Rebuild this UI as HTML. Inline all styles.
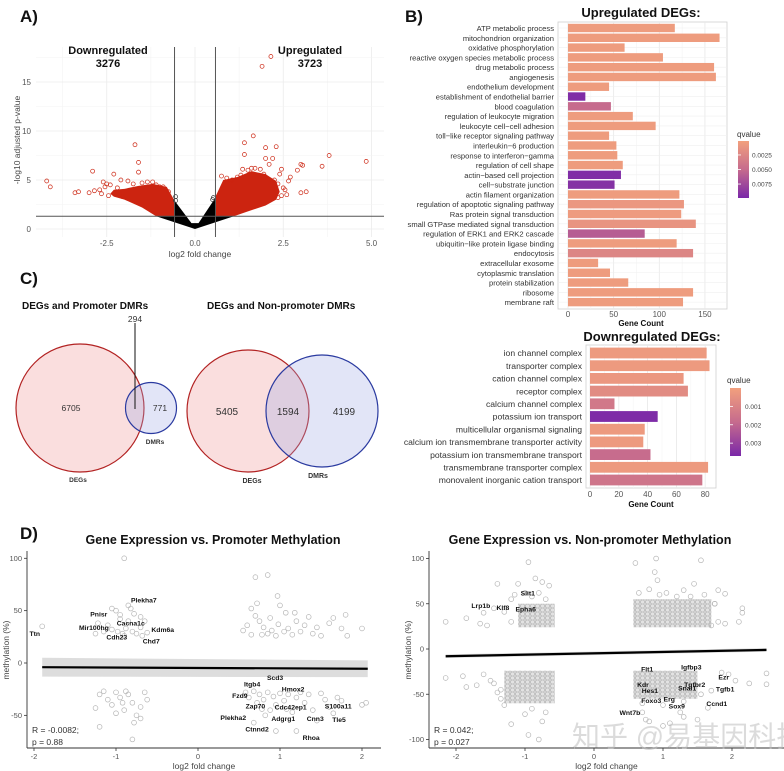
<!DOCTYPE html>
<html><head><meta charset="utf-8"><style>
html,body{margin:0;padding:0;background:#fff;}
svg{display:block;font-family:"Liberation Sans","Noto Sans CJK SC",sans-serif;}
</style></head><body>
<svg id="fig" width="784" height="771" viewBox="0 0 784 771" xmlns="http://www.w3.org/2000/svg">
<defs>
<linearGradient id="gUp" x1="0" y1="0" x2="0" y2="1"><stop offset="0" stop-color="#f2a07d"/><stop offset="0.5" stop-color="#c66b8d"/><stop offset="1" stop-color="#7a28a8"/></linearGradient>
<linearGradient id="gDn" x1="0" y1="0" x2="0" y2="1"><stop offset="0" stop-color="#f2a07d"/><stop offset="0.5" stop-color="#c66b8d"/><stop offset="1" stop-color="#7a28a8"/></linearGradient>
<pattern id="dots" width="5" height="4" patternUnits="userSpaceOnUse"><rect width="5" height="4" fill="#e2e2e2"/><circle cx="2.5" cy="2" r="2.1" fill="none" stroke="#b4b4b4" stroke-width="0.7"/></pattern>
</defs>
<g id="root"></g>
</svg>
<script>
// ---------- Panel A data ----------
const volcOutX=[1.9,2.15,-1.7,-1.6,-1.6,-2.9,-4.2,-4.1,-3.3,-3.4,1.65,1.4,1.4,2.0,2.3,2.0,2.2,3.8,4.85,3.0,3.05,3.6,2.9,3.0,3.15,2.6,2.45,2.7,2.45,1.35,-2.3,-2.6,-3.0,-2.5,-1.2,-1.0,
-2.7,-2.55,-2.4,-2.2,-2.1,-1.9,-1.75,-1.5,-1.35,-1.1,-0.9,-0.75,-2.85,-2.65,-2.45,-2.05,
0.75,0.9,1.05,1.2,1.5,1.7,1.85,1.95,2.1,2.25,2.35,2.4,2.5,2.55,2.65,2.2,2.35,1.0,1.3,1.6,0.5,0.52,-0.55,-0.55];
const volcOutY=[16.6,17.6,8.6,6.8,5.8,5.9,4.9,4.3,3.8,3.7,9.5,8.8,7.6,8.3,8.4,7.2,7.2,7.5,6.9,6.6,6.5,6.4,6.0,3.7,3.8,3.5,3.4,5.3,6.1,6.1,5.6,4.8,3.7,4.6,4.8,4.3,
4.0,4.3,4.5,4.2,5.0,4.9,4.6,4.7,4.8,4.5,4.3,3.8,3.9,3.6,3.4,3.3,
5.4,5.2,5.0,5.3,6.0,6.2,6.1,5.6,6.6,5.0,4.6,5.6,4.2,4.0,4.9,4.1,3.2,4.9,5.5,6.2,3.0,3.2,2.9,3.3];
const upCloudX=[0.58,0.8,1.2,1.6,2.0,2.3,2.4,2.3,2.0,1.5,1.1,0.58];
const upCloudY=[3.3,5.0,5.3,5.9,5.6,4.9,3.8,3.0,2.4,1.8,1.3,1.3];
const dnCloudX=[-0.58,-0.8,-1.2,-1.6,-2.0,-2.3,-2.4,-2.3,-2.0,-1.5,-1.1,-0.58];
const dnCloudY=[2.9,4.3,4.6,4.4,4.1,4.0,3.6,3.3,3.0,2.2,1.3,1.3];
const nsX=[0,-1.1,-0.58,-0.58,-0.1,0.1,0.58,0.58,1.1,0];
const nsY=[0,1.3,1.3,2.9,0.6,0.6,3.2,1.3,1.3,0];
const volcXTicks=[-2.5,0,2.5,5];
const volcXTickLabels=["-2.5","0.0","2.5","5.0"];
const volcYTicks=[0,5,10,15];
// ---------- Panel B data ----------
const upCats=["ATP metabolic process","mitochondrion organization","oxidative phosphorylation","reactive oxygen species metabolic process","drug metabolic process","angiogenesis","endothelium development","establishment of endothelial barrier","blood coagulation","regulation of leukocyte migration","leukocyte cell−cell adhesion","toll−like receptor signaling pathway","interleukin−6 production","response to interferon−gamma","regulation of cell shape","actin−based cell projection","cell−substrate junction","actin filament organization","regulation of apoptotic signaling pathway","Ras protein signal transduction","small GTPase mediated signal transduction","regulation of ERK1 and ERK2 cascade","ubiquitin−like protein ligase binding","endocytosis","extracellular exosome","cytoplasmic translation","protein stabilization","ribosome","membrane raft"];
const upCounts=[117,166,62,104,160,162,45,19,47,71,96,45,53,54,60,58,51,122,127,124,140,84,119,137,33,46,66,137,126];
const upQ=[0.0005,0.0005,0.0005,0.0005,0.0005,0.0005,0.0005,0.0095,0.005,0.0005,0.0005,0.0005,0.0005,0.0005,0.0005,0.0095,0.0092,0.0005,0.0009,0.0006,0.0012,0.006,0.0005,0.0025,0.0005,0.0005,0.0005,0.0005,0.0005];
const upXTicks=[0,50,100,150];
const upQTicks=[0.0025,0.005,0.0075];
const upQTickLabels=["0.0025","0.0050","0.0075"];
const dnCats=["ion channel complex","transporter complex","cation channel complex","receptor complex","calcium channel complex","potassium ion transport","multicellular organismal signaling","calcium ion transmembrane transporter activity","potassium ion transmembrane transport","transmembrane transporter complex","monovalent inorganic cation transport"];
const dnCounts=[81,83,65,68,17,47,38,37,42,82,78];
const dnQ=[0.0002,0.0002,0.0003,0.0007,0.0014,0.0036,0.0002,0.0002,0.0018,0.0002,0.0015];
const dnXTicks=[0,20,40,60,80];
const dnQTicks=[0.001,0.002,0.003];
// ---------- Panel C data ----------
const vennLeft=[6705,294,771];
const vennRight=[5405,1594,4199];
// ---------- Panel D data ----------
const dlX=[-1.05,-1.0,-0.95,-0.85,-0.82,-0.78,-0.7,-0.65,-1.1,-1.05,-0.98,-0.92,-0.88,-0.8,-0.75,-0.7,-0.68,-0.62,-0.9,-1.15,-1.25,-0.85,-0.95,-0.9,-1.9,-1.22,
0.7,0.85,0.97,0.55,0.6,0.65,0.7,0.72,0.75,0.8,0.85,0.88,0.9,0.95,0.98,1.0,1.05,1.07,1.1,1.15,1.2,1.25,1.3,1.35,1.4,1.45,1.5,1.6,1.65,1.75,1.8,1.82,2.0,0.78,1.18,0.65,
-1.2,-1.15,-1.1,-1.05,-1.0,-0.95,-0.9,-0.85,-0.8,-0.75,-0.7,-0.65,-0.62,-1.25,-0.88,-0.92,-0.78,-1.2,-0.8,-1.0,-0.7,
0.58,0.62,0.68,0.72,0.75,0.8,0.85,0.88,0.92,0.95,1.0,1.05,1.1,1.15,1.2,1.25,1.3,1.35,1.4,1.45,1.5,1.55,1.6,1.65,1.7,1.75,2.05,2.0,1.2,0.95,0.68,0.82,0.78,1.08];
const dlY=[52,50,46,55,52,47,44,40,36,32,30,28,33,30,28,34,26,29,26,30,28,40,42,100,35,38,
82,84,64,31,36,27,45,57,40,34,28,43,31,26,37,55,30,48,33,27,40,30,36,44,28,34,26,38,43,33,46,26,33,27,48,52,
-30,-27,-35,-40,-28,-33,-45,-30,-38,-50,-42,-28,-35,-43,-27,-38,-57,-61,-73,-48,-53,
-28,-33,-27,-38,-30,-35,-28,-45,-32,-40,-29,-36,-30,-47,-33,-28,-38,-30,-45,-55,-29,-35,-42,-48,-33,-36,-38,-40,-65,-65,-57,-50,-44,-44];
const dlLabels=["Plekha7","Pnisr","Cacna1c","Mir100hg","Kdm6a","Cdh23","Chd7","Ttn","Scd3","Itgb4","Hmox2","Fzd9","Zap70","Cdc42ep1","S100a11","Plekha2","Adgrg1","Cnn3","Tle5","Ctnnd2","Rhoa"];
const dlLabX=[-0.66,-1.21,-0.82,-1.27,-0.43,-0.99,-0.57,-1.99,0.94,0.66,1.16,0.51,0.70,1.13,1.71,0.43,1.04,1.43,1.72,0.72,1.38];
const dlLabY=[60,47,38,34,32,25,21,28,-14,-20,-25,-31,-41,-42,-41,-52,-53,-53,-54,-63,-71];
const dlFitX=[-1.9,2.07];
const dlFitY=[-4,-5.5];
const dlBand=[9,8];
const drClX0=[-1.1,0.57,-1.3,0.57];
const drClX1=[-0.57,1.7,-0.57,1.5];
const drClY0=[24,24,-60,-55];
const drClY1=[50,55,-24,-24];
const drX=[-2.15,-1.85,-1.65,-1.55,-1.4,-1.3,-1.2,-1.1,-0.95,-0.85,-0.75,-0.65,-1.0,-1.45,-1.6,-2.15,-1.9,-1.85,-1.6,-1.7,-1.5,-1.4,-1.35,-1.3,-1.2,-1.0,-0.95,-0.8,-0.75,-0.7,
0.6,0.9,0.88,0.92,1.45,1.55,1.8,1.9,2.1,2.15,2.15,1.7,1.75,1.3,1.2,1.85,1.95,2.05,2.25,2.5,2.5,1.0,0.75,0.8,1.1,1.3,1.5,1.65,0.7,1.25,
-1.2,-1.15,-0.9,-0.8,-0.7,-1.35,-1.45,-0.9,0.65,0.8,0.95,1.05,1.4,1.6,1.75,1.8,1.9,0.7,1.0,1.3,1.55,1.7];
const drY=[30,34,28,26,72,41,30,72,96,78,74,70,62,45,40,-32,-30,-42,-28,-40,-35,-48,-45,-62,-83,-72,-95,-100,-80,-70,
95,100,85,76,72,98,65,61,30,45,40,26,50,65,58,-26,-28,-35,-38,-27,-39,-85,-78,-80,-82,-75,-78,-65,-70,-70,
55,60,58,62,55,-55,-38,-66,62,66,60,62,58,60,50,30,28,-60,-62,-58,-50,-46];
const drLabels=["Slit1","Lrp1b","Klf8","Epha6","Flt1","Igfbp3","Ezr","Kdr","Tgfbr2","Snai1","Tgfb1","Hes1","Foxo3","Erg","Sox9","Ccnd1","Wnt7b"];
const drLabX=[-0.96,-1.64,-1.32,-0.99,0.77,1.41,1.88,0.71,1.46,1.35,1.9,0.81,0.83,1.09,1.2,1.78,0.52];
const drLabY=[62,48,46,44,-22,-20,-31,-39,-39,-43,-44,-46,-57,-55,-63,-60,-70];
const drFitX=[-2.15,2.5];
const drFitY=[-8,-1];
const dXTicks=[-2,-1,0,1,2];
const dlYTicks=[-50,0,50,100];
const drYTicks=[-100,-50,0,50,100];

const NS="http://www.w3.org/2000/svg";
const root=document.getElementById('root');
function mk(tag,attrs,parent){const e=document.createElementNS(NS,tag);for(const k in attrs)e.setAttribute(k,attrs[k]);(parent||root).appendChild(e);return e;}
function tx(str,x,y,size,opts,parent){opts=opts||{};const e=mk('text',{x:x,y:y,'font-size':size,fill:opts.fill||'#222','text-anchor':opts.anchor||'start','font-weight':opts.bold?'bold':'normal'},parent);if(opts.rot)e.setAttribute('transform','rotate(-90 '+x+' '+y+')');if(opts.italic)e.setAttribute('font-style','italic');e.textContent=str;return e;}
function lerp(a,b,t){return Math.round(a+(b-a)*t);}
function qcol(q,lo,hi){let t=(q-lo)/(hi-lo);t=Math.max(0,Math.min(1,t));const A=[242,160,125],M=[198,107,141],B=[122,40,168];let c;if(t<0.5){const u=t/0.5;c=[lerp(A[0],M[0],u),lerp(A[1],M[1],u),lerp(A[2],M[2],u)];}else{const u=(t-0.5)/0.5;c=[lerp(M[0],B[0],u),lerp(M[1],B[1],u),lerp(M[2],B[2],u)];}return 'rgb('+c.join(',')+')';}

// ===== Panel A =====
const ax=v=>195+v*35.3, ay=v=>229-v*9.8;
let e;
e=tx('A)',20,22,17,{bold:true,fill:'#111'});


const gA=mk('g',{});


[-3.75,-1.25,1.25,3.75].forEach(v=>{mk('line',{x1:ax(v),x2:ax(v),y1:47,y2:237,stroke:'#f3f3f3','stroke-width':0.6},gA);});
volcXTicks.forEach(v=>{mk('line',{x1:ax(v),x2:ax(v),y1:47,y2:237,stroke:'#ebebeb','stroke-width':0.8},gA);});
[2.5,7.5,12.5,17.5].forEach(v=>{mk('line',{x1:36,x2:384,y1:ay(v),y2:ay(v),stroke:'#f3f3f3','stroke-width':0.6},gA);});
volcYTicks.forEach(v=>{mk('line',{x1:36,x2:384,y1:ay(v),y2:ay(v),stroke:'#ebebeb','stroke-width':0.8},gA);
 e=tx(String(v),31,ay(v)+3,8,{anchor:'end',fill:'#555'},gA);
 
 });
volcXTicks.forEach((v,i)=>{e=tx(volcXTickLabels[i],ax(v),246,8,{anchor:'middle',fill:'#555'},gA);
 
 });
e=mk('polygon',{points:dnCloudX.map((x,i)=>ax(x)+','+ay(dnCloudY[i])).join(' '),fill:'#cc2410'},gA);


e=mk('polygon',{points:upCloudX.map((x,i)=>ax(x)+','+ay(upCloudY[i])).join(' '),fill:'#cc2410'},gA);


e=mk('polygon',{points:nsX.map((x,i)=>ax(x)+','+ay(nsY[i])).join(' '),fill:'#000'},gA);


volcOutX.forEach((x,i)=>{e=mk('circle',{cx:ax(x),cy:ay(volcOutY[i]),r:2,fill:'none',stroke:Math.abs(x)<0.58?'#333':'#cc2410','stroke-width':0.7},gA);
 
 });
[-0.58,0.58].forEach(v=>{e=mk('line',{x1:ax(v),x2:ax(v),y1:47,y2:237,stroke:'#555','stroke-width':1},gA);
 
 });
e=mk('line',{x1:36,x2:384,y1:ay(1.3),y2:ay(1.3),stroke:'#555','stroke-width':1},gA);


e=tx('Downregulated',108,54,11,{anchor:'middle',bold:true,fill:'#111'},gA);


e=tx('3276',108,67,11,{anchor:'middle',bold:true,fill:'#111'},gA);


e=tx('Upregulated',310,54,11,{anchor:'middle',bold:true,fill:'#111'},gA);


e=tx('3723',310,67,11,{anchor:'middle',bold:true,fill:'#111'},gA);


e=tx('log2 fold change',200,257,8.5,{anchor:'middle',fill:'#444'},gA);


e=tx('-log10 adjusted p-value',20,140,8.5,{anchor:'middle',fill:'#444',rot:true},gA);



// ===== Panel B =====
e=tx('B)',405,22,17,{bold:true,fill:'#111'});


const bx=v=>568+v*0.913, by=i=>28+i*9.79;
const gB=mk('g',{});


e=tx('Upregulated DEGs:',641,17,13,{anchor:'middle',bold:true,fill:'#111'},gB);


mk('rect',{x:558,y:22,width:169,height:287,fill:'#fff',stroke:'#cfcfcf','stroke-width':0.8},gB);
[25,75,125].forEach(v=>mk('line',{x1:bx(v),x2:bx(v),y1:22,y2:309,stroke:'#f4f4f4','stroke-width':0.6},gB));
upXTicks.forEach(v=>{mk('line',{x1:bx(v),x2:bx(v),y1:22,y2:309,stroke:'#e8e8e8','stroke-width':0.8},gB);
 e=tx(String(v),bx(v),317,8,{anchor:'middle',fill:'#555'},gB);
 
 });
upCats.forEach((c,i)=>{mk('line',{x1:558,x2:727,y1:by(i),y2:by(i),stroke:'#efefef','stroke-width':0.6},gB);
 e=mk('rect',{x:bx(0),y:by(i)-4.2,width:bx(upCounts[i])-bx(0),height:8.4,fill:qcol(upQ[i],0.0001,0.0099)},gB);
 
 
 e=tx(c,554,by(i)+3,7.6,{anchor:'end',fill:'#333'},gB);
 
 });
e=tx('Gene Count',641,326,8,{anchor:'middle',bold:true,fill:'#111'},gB);


e=tx('qvalue',737,137,8,{fill:'#333'},gB);


e=mk('rect',{x:738,y:141,width:11,height:57,fill:'url(#gUp)'},gB);


const upQy=q=>141+(q-0.0001)/(0.0098)*57;
upQTicks.forEach((q,i)=>{mk('line',{x1:738,x2:741,y1:upQy(q),y2:upQy(q),stroke:'#fff','stroke-width':0.8},gB);
 e=tx(upQTickLabels[i],752,upQy(q)+2.5,6.5,{fill:'#444'},gB);
 
 });

const dx=v=>590+v*1.44, dy=i=>353+i*12.7;
const gD=mk('g',{});


e=tx('Downregulated DEGs:',652,341,13,{anchor:'middle',bold:true,fill:'#111'},gD);


mk('rect',{x:586,y:345,width:130,height:143,fill:'#fff',stroke:'#cfcfcf','stroke-width':0.8},gD);
[10,30,50,70].forEach(v=>mk('line',{x1:dx(v),x2:dx(v),y1:345,y2:488,stroke:'#f4f4f4','stroke-width':0.6},gD));
dnXTicks.forEach(v=>{mk('line',{x1:dx(v),x2:dx(v),y1:345,y2:488,stroke:'#e8e8e8','stroke-width':0.8},gD);
 e=tx(String(v),dx(v),497,8,{anchor:'middle',fill:'#555'},gD);
 
 });
dnCats.forEach((c,i)=>{e=mk('rect',{x:dx(0),y:dy(i)-5.4,width:dx(dnCounts[i])-dx(0),height:10.8,fill:qcol(dnQ[i],0,0.0037)},gD);
 
 
 e=tx(c,582,dy(i)+3.2,8.6,{anchor:'end',fill:'#333'},gD);
 
 });
e=tx('Gene Count',651,507,8,{anchor:'middle',bold:true,fill:'#111'},gD);


e=tx('qvalue',727,383,8,{fill:'#333'},gD);


e=mk('rect',{x:730,y:388,width:11,height:68,fill:'url(#gDn)'},gD);


const dnQy=q=>388+q/0.0037*68;
dnQTicks.forEach(q=>{mk('line',{x1:730,x2:733,y1:dnQy(q),y2:dnQy(q),stroke:'#fff','stroke-width':0.8},gD);
 e=tx(q.toFixed(3),745,dnQy(q)+2.5,6.5,{fill:'#444'},gD);
 
 });

// ===== Panel C =====
e=tx('C)',20,284,17,{bold:true,fill:'#111'});


const gC=mk('g',{});


e=tx('DEGs and Promoter DMRs',22,309,10,{bold:true,fill:'#111'},gC);


e=tx('DEGs and Non-promoter DMRs',207,309,10,{bold:true,fill:'#111'},gC);


e=mk('circle',{cx:80,cy:408,r:64,fill:'rgba(240,160,160,0.35)',stroke:'#b22222','stroke-width':1.2},gC);


e=mk('circle',{cx:151,cy:408,r:25.5,fill:'rgba(160,170,230,0.3)',stroke:'#2a3aa0','stroke-width':1.2},gC);


mk('line',{x1:135,x2:135,y1:323,y2:409,stroke:'#111','stroke-width':1},gC);
e=tx(String(vennLeft[1]),135,322,8.5,{anchor:'middle',fill:'#333'},gC);


e=tx(String(vennLeft[0]),71,411,8.5,{anchor:'middle',fill:'#333'},gC);


e=tx(String(vennLeft[2]),160,411,8.5,{anchor:'middle',fill:'#333'},gC);


e=tx('DMRs',155,444,6.5,{anchor:'middle',bold:true,fill:'#333'},gC);


e=tx('DEGs',78,482,6.5,{anchor:'middle',bold:true,fill:'#333'},gC);


e=mk('circle',{cx:248,cy:411,r:61,fill:'rgba(240,160,160,0.35)',stroke:'#b22222','stroke-width':1.2},gC);


e=mk('circle',{cx:322,cy:411,r:56,fill:'rgba(160,170,230,0.3)',stroke:'#2a3aa0','stroke-width':1.2},gC);


e=tx(String(vennRight[0]),227,415,10,{anchor:'middle',fill:'#333'},gC);


e=tx(String(vennRight[1]),288,415,10,{anchor:'middle',fill:'#333'},gC);


e=tx(String(vennRight[2]),344,415,10,{anchor:'middle',fill:'#333'},gC);


e=tx('DEGs',252,483,7,{anchor:'middle',bold:true,fill:'#333'},gC);


e=tx('DMRs',318,478,7,{anchor:'middle',bold:true,fill:'#333'},gC);



// ===== Panel D =====
e=tx('D)',20,539,17,{bold:true,fill:'#111'});


function scatterPanel(name,title,titleX,xs,ys,axisX0,axisX1,xTicks,yTicks,ptsX,ptsY,labs,labX,labY,fitX,fitY,band,rText,pText,clusters){
 const g=mk('g',{});
 
 
 e=tx(title,titleX,544,12.5,{anchor:'middle',bold:true,fill:'#111'},g);
 
 
 if(clusters){clusters.x0.forEach((x0,i)=>{e=mk('rect',{x:xs(x0),y:ys(clusters.y1[i]),width:xs(clusters.x1[i])-xs(x0),height:ys(clusters.y0[i])-ys(clusters.y1[i]),fill:'url(#dots)'},g);
  
  });}
 ptsX.forEach((x,i)=>{e=mk('circle',{cx:xs(x),cy:ys(ptsY[i]),r:2.4,fill:'none',stroke:'#b5b5b5','stroke-width':0.7},g);
  
  });
 if(band){e=mk('polygon',{points:[xs(fitX[0])+','+ys(fitY[0]+band[0]),xs(fitX[1])+','+ys(fitY[1]+band[1]),xs(fitX[1])+','+ys(fitY[1]-band[1]),xs(fitX[0])+','+ys(fitY[0]-band[0])].join(' '),fill:'rgba(170,170,170,0.4)'},g);
  
  }
 e=mk('line',{x1:xs(fitX[0]),y1:ys(fitY[0]),x2:xs(fitX[1]),y2:ys(fitY[1]),stroke:'#000','stroke-width':2.2},g);
 
 
 labs.forEach((l,i)=>{e=tx(l,xs(labX[i]),ys(labY[i])+2.5,6.8,{anchor:'middle',bold:true,fill:'#111'},g);
  
  });
 mk('line',{x1:axisX0,x2:axisX0,y1:551,y2:748,stroke:'#333','stroke-width':0.9},g);
 mk('line',{x1:axisX0,x2:axisX1,y1:748,y2:748,stroke:'#333','stroke-width':0.9},g);
 xTicks.forEach(v=>{mk('line',{x1:xs(v),x2:xs(v),y1:748,y2:751,stroke:'#333','stroke-width':0.8},g);
  e=tx(String(v),xs(v),759,7.5,{anchor:'middle',fill:'#555'},g);
  
  });
 yTicks.forEach(v=>{mk('line',{x1:axisX0-3,x2:axisX0,y1:ys(v),y2:ys(v),stroke:'#333','stroke-width':0.8},g);
  e=tx(String(v),axisX0-5,ys(v)+2.5,7.5,{anchor:'end',fill:'#555'},g);
  
  });
 e=tx('log2 fold change',(axisX0+axisX1)/2,769,8.5,{anchor:'middle',fill:'#444'},g);
 
 
 e=tx('methylation (%)',axisX0-18,650,8.5,{anchor:'middle',fill:'#444',rot:true},g);
 
 
 e=tx(rText,axisX0+5,733,8.5,{fill:'#333'},g);
 
 
 e=tx(pText,axisX0+5,745,8.5,{fill:'#333'},g);
 
 
}
const lx=v=>198+v*82, ly=v=>663-v*1.047;
const rx=v=>594+v*69, ry=v=>649-v*0.905;
scatterPanel('promoter-methylation-scatter','Gene Expression vs. Promoter Methylation',213,lx,ly,27,381,dXTicks,dlYTicks,dlX,dlY,dlLabels,dlLabX,dlLabY,dlFitX,dlFitY,dlBand,'R = -0.0082;','p = 0.88',null);
scatterPanel('nonpromoter-methylation-scatter','Gene Expression vs. Non-promoter Methylation',590,rx,ry,429,784,dXTicks,drYTicks,drX,drY,drLabels,drLabX,drLabY,drFitX,drFitY,[2,2],'R = 0.042;','p = 0.027',{x0:drClX0,x1:drClX1,y0:drClY0,y1:drClY1});
e=tx('知乎 @易基因科技',572,746,28,{fill:'rgba(190,190,190,0.55)'});


</script>
</body></html>
